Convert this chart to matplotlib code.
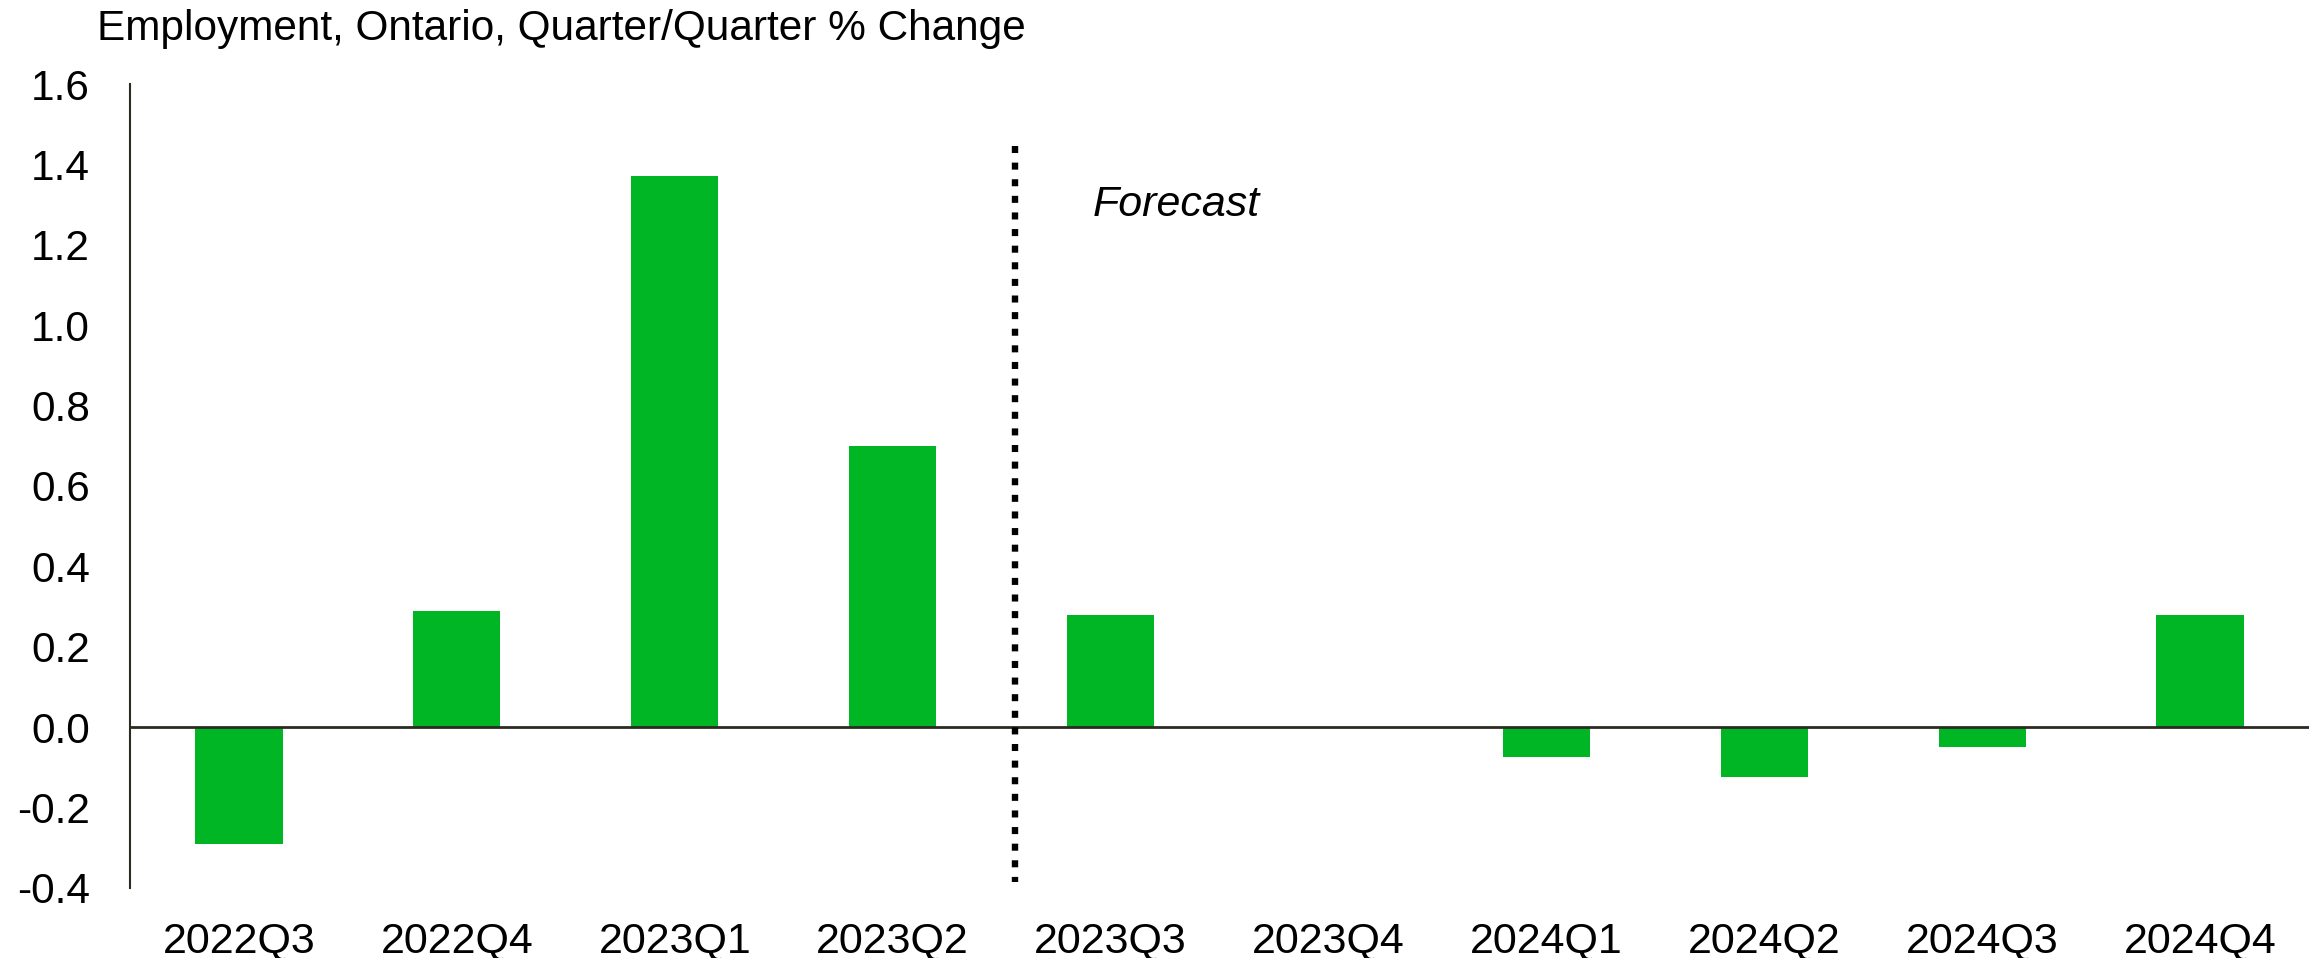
import matplotlib.pyplot as plt
import numpy as np

plt.rcParams['font.family'] = ['Liberation Sans', 'DejaVu Sans']

quarters = ["2022Q3", "2022Q4", "2023Q1", "2023Q2", "2023Q3",
            "2023Q4", "2024Q1", "2024Q2", "2024Q3", "2024Q4"]
emp_change = [-0.29, 0.29, 1.37, 0.70, 0.28, 0.0, -0.075, -0.125, -0.05, 0.28]
y_ticks = [-0.4, -0.2, 0.0, 0.2, 0.4, 0.6, 0.8, 1.0, 1.2, 1.4, 1.6]

fig = plt.figure(figsize=(23.18, 9.58), dpi=100)
ax = fig.add_axes([0.0561, 0.0731, 0.94, 0.8392])

x = np.arange(len(quarters))
ax.bar(x, emp_change, width=0.4, color="#00b624", zorder=2)

# zero line across the plot
ax.axhline(0, color="#2b2b22", lw=2, zorder=3)

# split between history and forecast (drawn top-down so the pattern starts at the top)
ax.plot([3.56, 3.56], [1.445, -0.385], color="black", lw=4.6,
        linestyle=(0, (1.1, 1.5)), solid_capstyle="butt", zorder=3)
ax.text(3.92, 1.3, "Forecast", fontsize=31, style="italic", va="center", ha="left")

ax.set_xlim(-0.5, 9.5)
ax.set_ylim(-0.4, 1.6)
ax.set_xticks(x)
ax.set_xticklabels(quarters, fontsize=31)
ax.set_yticks(y_ticks)
ax.set_yticklabels([f"{v:.1f}" for v in y_ticks], fontsize=30.5)
ax.tick_params(axis="both", length=0)
ax.tick_params(axis="y", pad=29)
ax.tick_params(axis="x", pad=24)

for side in ["top", "right", "bottom"]:
    ax.spines[side].set_visible(False)
ax.spines["left"].set_color("#2b2b22")
ax.spines["left"].set_linewidth(1.5)

fig.text(0.042, 0.958, "Employment, Ontario, Quarter/Quarter % Change",
         fontsize=30.5, va="baseline", ha="left")

fig.savefig("out.png", dpi=100, facecolor="white")
